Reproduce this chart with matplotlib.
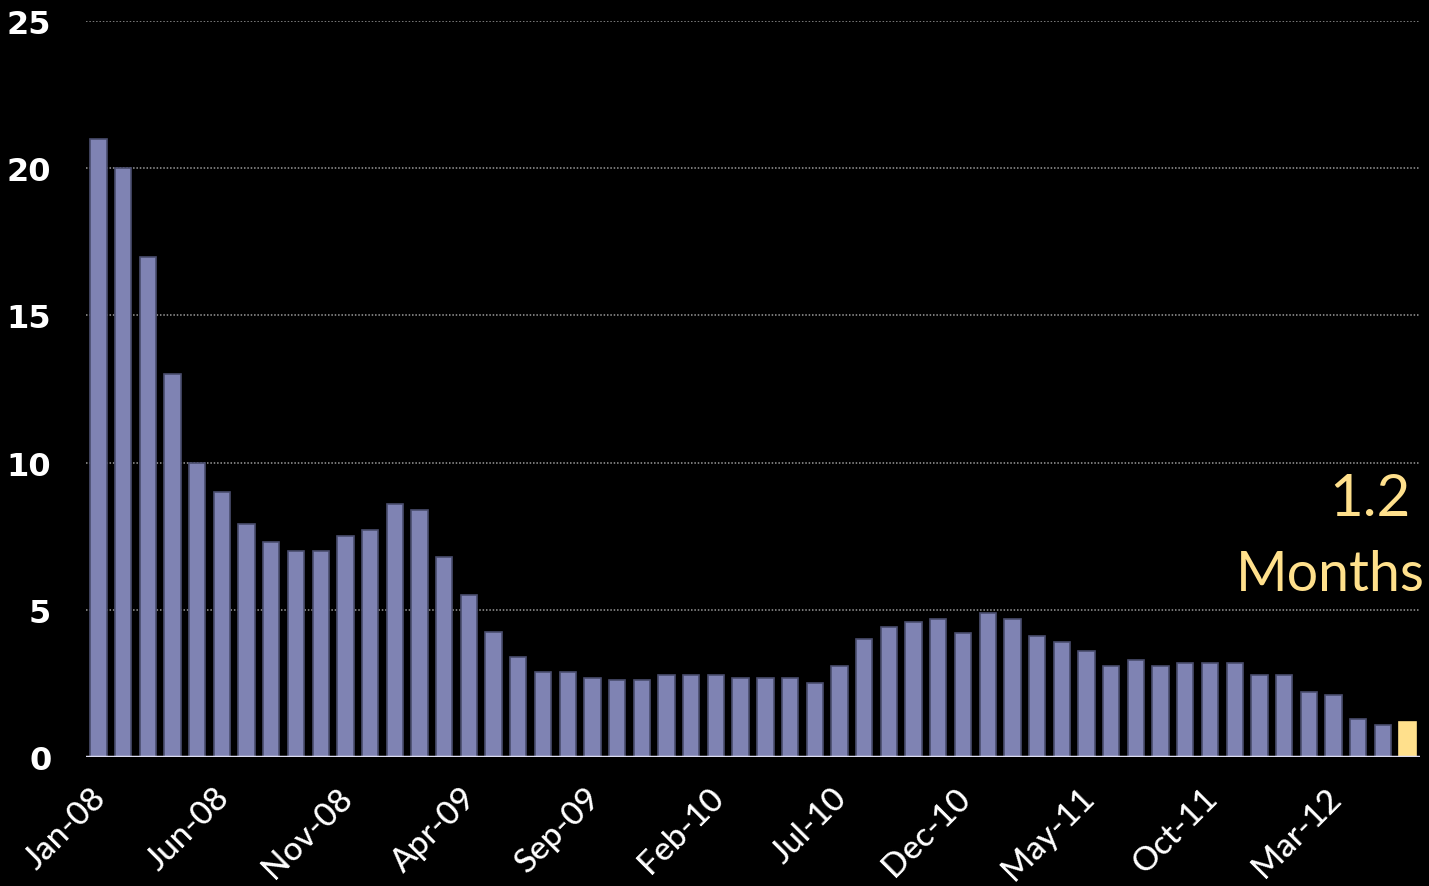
import numpy as np
import matplotlib
matplotlib.use("Agg")
import matplotlib.pyplot as plt
from matplotlib.transforms import ScaledTranslation

# months of supply, Jan-08 .. Jun-12
months = ["Jan-08", "Feb-08", "Mar-08", "Apr-08", "May-08", "Jun-08", "Jul-08", "Aug-08", "Sep-08",
          "Oct-08", "Nov-08", "Dec-08", "Jan-09", "Feb-09", "Mar-09", "Apr-09", "May-09", "Jun-09",
          "Jul-09", "Aug-09", "Sep-09", "Oct-09", "Nov-09", "Dec-09", "Jan-10", "Feb-10", "Mar-10",
          "Apr-10", "May-10", "Jun-10", "Jul-10", "Aug-10", "Sep-10", "Oct-10", "Nov-10", "Dec-10",
          "Jan-11", "Feb-11", "Mar-11", "Apr-11", "May-11", "Jun-11", "Jul-11", "Aug-11", "Sep-11",
          "Oct-11", "Nov-11", "Dec-11", "Jan-12", "Feb-12", "Mar-12", "Apr-12", "May-12", "Jun-12"]
supply = [21, 20, 17, 13, 10, 9, 7.9, 7.3, 7.0, 7.0, 7.5, 7.7, 8.6, 8.4, 6.8, 5.5, 4.25, 3.4,
          2.9, 2.9, 2.7, 2.6, 2.6, 2.8, 2.8, 2.8, 2.7, 2.7, 2.7, 2.5, 3.1, 4.0, 4.4, 4.6, 4.7,
          4.2, 4.9, 4.7, 4.1, 3.9, 3.6, 3.1, 3.3, 3.1, 3.2, 3.2, 3.2, 2.8, 2.8, 2.2, 2.1, 1.3,
          1.1, 1.2]
yticks = [0, 5, 10, 15, 20, 25]

fig = plt.figure(figsize=(14.29, 8.87), dpi=100, facecolor="black")
ax = fig.add_axes([86 / 1429, 1 - 758 / 887, 1334 / 1429, 736 / 887])
ax.set_facecolor("black")

x = np.arange(len(supply))
colors = ["#7f83b3"] * (len(supply) - 1) + ["#ffe08c"]
edges = ["#4a4d6e"] * (len(supply) - 1) + ["#ffe08c"]
ax.bar(x, supply, width=0.66, color=colors, edgecolor=edges, linewidth=1.2, zorder=3)

ax.set_xlim(-0.5, len(supply) - 0.5)
ax.set_ylim(0, 25)
ax.set_yticks(yticks)
ax.yaxis.grid(True, color="#9a9a9a", linestyle=(0, (1, 1.2)), linewidth=1.1)
ax.axhline(0, color="#dcdcf0", linewidth=2.5, zorder=4)

for s in ax.spines.values():
    s.set_visible(False)
ax.tick_params(axis="both", length=0)
ax.tick_params(axis="y", pad=25)
for lab in ax.get_yticklabels():
    lab.set_fontfamily("DejaVu Sans")
    lab.set_fontweight("bold")
    lab.set_fontsize(23)
    lab.set_color("white")

ax.set_xticks(x[::5])
ax.set_xticklabels(months[::5], rotation=45, ha="right", va="top", rotation_mode="anchor",
                   fontsize=24, color="white", fontfamily="Lato", fontweight="medium")
ax.tick_params(axis="x", pad=18)
# nudge labels left a bit
shift = ScaledTranslation(-0.08, 0, fig.dpi_scale_trans)
for lab in ax.get_xticklabels():
    lab.set_transform(lab.get_transform() + shift)

ax.text(1411, 887 - 500, "1.2", transform=None, fontsize=42, color="#ffe08c",
        fontfamily="Lato", ha="right", va="center")
ax.text(1425, 887 - 576, "Months", transform=None, fontsize=40, color="#ffe08c",
        fontfamily="Lato", ha="right", va="center")

fig.savefig("out.png", dpi=100, facecolor="black")
